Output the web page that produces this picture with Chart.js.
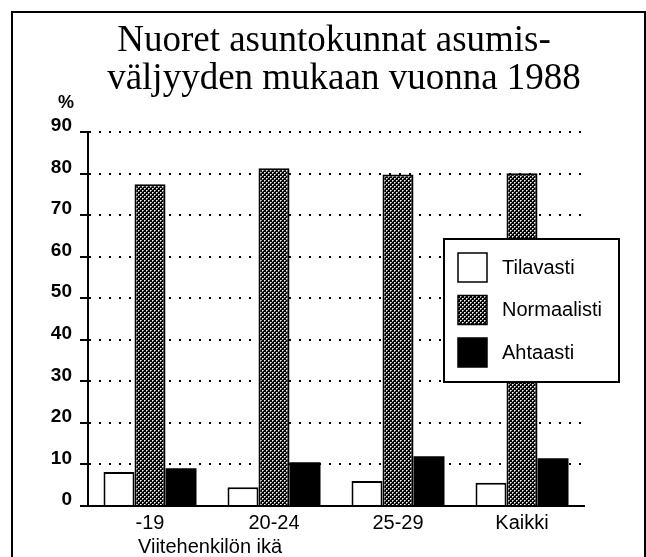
<!DOCTYPE html>
<html>
<head>
<meta charset="utf-8">
<script src="https://cdn.jsdelivr.net/npm/chart.js@4"></script>
<style>
  html, body { margin: 0; padding: 0; background: #fff; }
  #wrap { width: 646px; height: 557px; }
</style>
</head>
<body>
<div id="wrap"><canvas id="myChart" width="646" height="557"></canvas></div>
<script>
var categories = ["-19", "20-24", "25-29", "Kaikki"];
var seriesNames = ["Tilavasti", "Normaalisti", "Ahtaasti"];
var tilavasti = [8.2, 4.5, 6.0, 5.6];
var normaalisti = [77.4, 81.3, 79.8, 80.1];
var ahtaasti = [9.1, 10.5, 12.0, 11.5];
var yTicks = [0, 10, 20, 30, 40, 50, 60, 70, 80, 90];
var titleLines = ["Nuoret asuntokunnat asumis-", "väljyyden mukaan vuonna 1988"];
var xTitle = "Viitehenkilön ikä";
var yUnit = "%";

// dotted raster like the old print
function makePattern() {
  var c = document.createElement("canvas");
  c.width = 4;
  c.height = 4;
  var g = c.getContext("2d");
  g.fillStyle = "#000";
  g.fillRect(0, 0, 4, 4);
  g.fillStyle = "#999";
  g.fillRect(1, 0, 1, 1);
  g.fillRect(0, 1, 1, 1);
  g.fillRect(3, 2, 1, 1);
  g.fillRect(2, 3, 1, 1);
  g.fillStyle = "#fff";
  g.fillRect(0, 0, 1, 1);
  g.fillRect(2, 2, 1, 1);
  return g.createPattern(c, "repeat");
}
var dots = makePattern();

var sansFont = "'Liberation Sans', Arial, sans-serif";
var serifFont = "'Liberation Serif', 'Times New Roman', serif";

var extras = {
  id: "extras",
  beforeDraw: function (chart) {
    var ctx = chart.ctx;
    ctx.save();
    ctx.fillStyle = "#fff";
    ctx.fillRect(0, 0, chart.width, chart.height);
    ctx.restore();
  },
  afterDraw: function (chart) {
    var ctx = chart.ctx;
    ctx.save();

    // frame
    ctx.strokeStyle = "#000";
    ctx.lineWidth = 2;
    ctx.beginPath();
    ctx.moveTo(12, 560);
    ctx.lineTo(12, 12);
    ctx.lineTo(645, 12);
    ctx.lineTo(645, 560);
    ctx.stroke();

    // title
    ctx.fillStyle = "#000";
    ctx.font = "37px " + serifFont;
    ctx.textAlign = "center";
    ctx.textBaseline = "alphabetic";
    ctx.fillText(titleLines[0], 334, 51);
    ctx.fillText(titleLines[1], 344, 89);

    // unit
    ctx.font = "bold 18px " + sansFont;
    ctx.fillText(yUnit, 66, 108);

    // x title
    ctx.font = "20px " + sansFont;
    ctx.textAlign = "left";
    ctx.fillText(xTitle, 138, 553);

    // legend box
    var bx = 444, by = 239, bw = 175, bh = 143;
    ctx.fillStyle = "#fff";
    ctx.fillRect(bx, by, bw, bh);
    ctx.lineWidth = 2;
    ctx.strokeRect(bx, by, bw, bh);
    var sets = chart.data.datasets;
    for (var i = 0; i < sets.length; i++) {
      var sy = 253 + i * 42.5;
      ctx.fillStyle = sets[i].backgroundColor;
      ctx.fillRect(458, sy, 29, 29);
      ctx.strokeStyle = "#000";
      ctx.lineWidth = 1.5;
      ctx.strokeRect(458, sy, 29, 29);
      ctx.fillStyle = "#000";
      ctx.font = "20px " + sansFont;
      ctx.textAlign = "left";
      ctx.textBaseline = "middle";
      ctx.fillText(sets[i].label, 502, sy + 15);
    }
    ctx.restore();
  },
};

new Chart("myChart", {
  type: "bar",
  data: {
    labels: categories,
    datasets: [
      {
        label: seriesNames[0],
        data: tilavasti,
        backgroundColor: "#fff",
        borderColor: "#000",
        borderWidth: 2,
      },
      {
        label: seriesNames[1],
        data: normaalisti,
        backgroundColor: dots,
        borderColor: "#000",
        borderWidth: 2,
      },
      {
        label: seriesNames[2],
        data: ahtaasti,
        backgroundColor: "#000",
        borderColor: "#000",
        borderWidth: 0,
      },
    ],
  },
  options: {
    responsive: false,
    animation: false,
    layout: {
      padding: { top: 132, right: 62, left: 0, bottom: 0 },
    },
    plugins: {
      legend: { display: false },
      title: { display: false },
      tooltip: { enabled: false },
    },
    datasets: {
      bar: {
        categoryPercentage: 0.75,
        barPercentage: 1.0,
        borderSkipped: "bottom",
      },
    },
    scales: {
      x: {
        grid: { display: false, drawTicks: false },
        border: { display: true, color: "#000", width: 2 },
        ticks: {
          color: "#000",
          padding: 5,
          font: { family: sansFont, size: 20 },
        },
        afterFit: function (scale) {
          scale.height = 51;
        },
      },
      y: {
        min: 0,
        max: 90,
        afterBuildTicks: function (scale) {
          scale.ticks = yTicks.map(function (v) { return { value: v }; });
        },
        grid: {
          color: "#000",
          lineWidth: 2,
          tickLength: 8,
          tickColor: "#000",
          tickWidth: 2,
          tickBorderDash: [],
        },
        border: { display: true, color: "#000", width: 2, dash: [2, 8] },
        ticks: {
          color: "#000",
          padding: 8,
          labelOffset: -6,
          font: { family: sansFont, size: 19, weight: "bold" },
        },
        afterFit: function (scale) {
          scale.width = 88;
        },
      },
    },
  },
  plugins: [extras],
});
</script>
</body>
</html>
